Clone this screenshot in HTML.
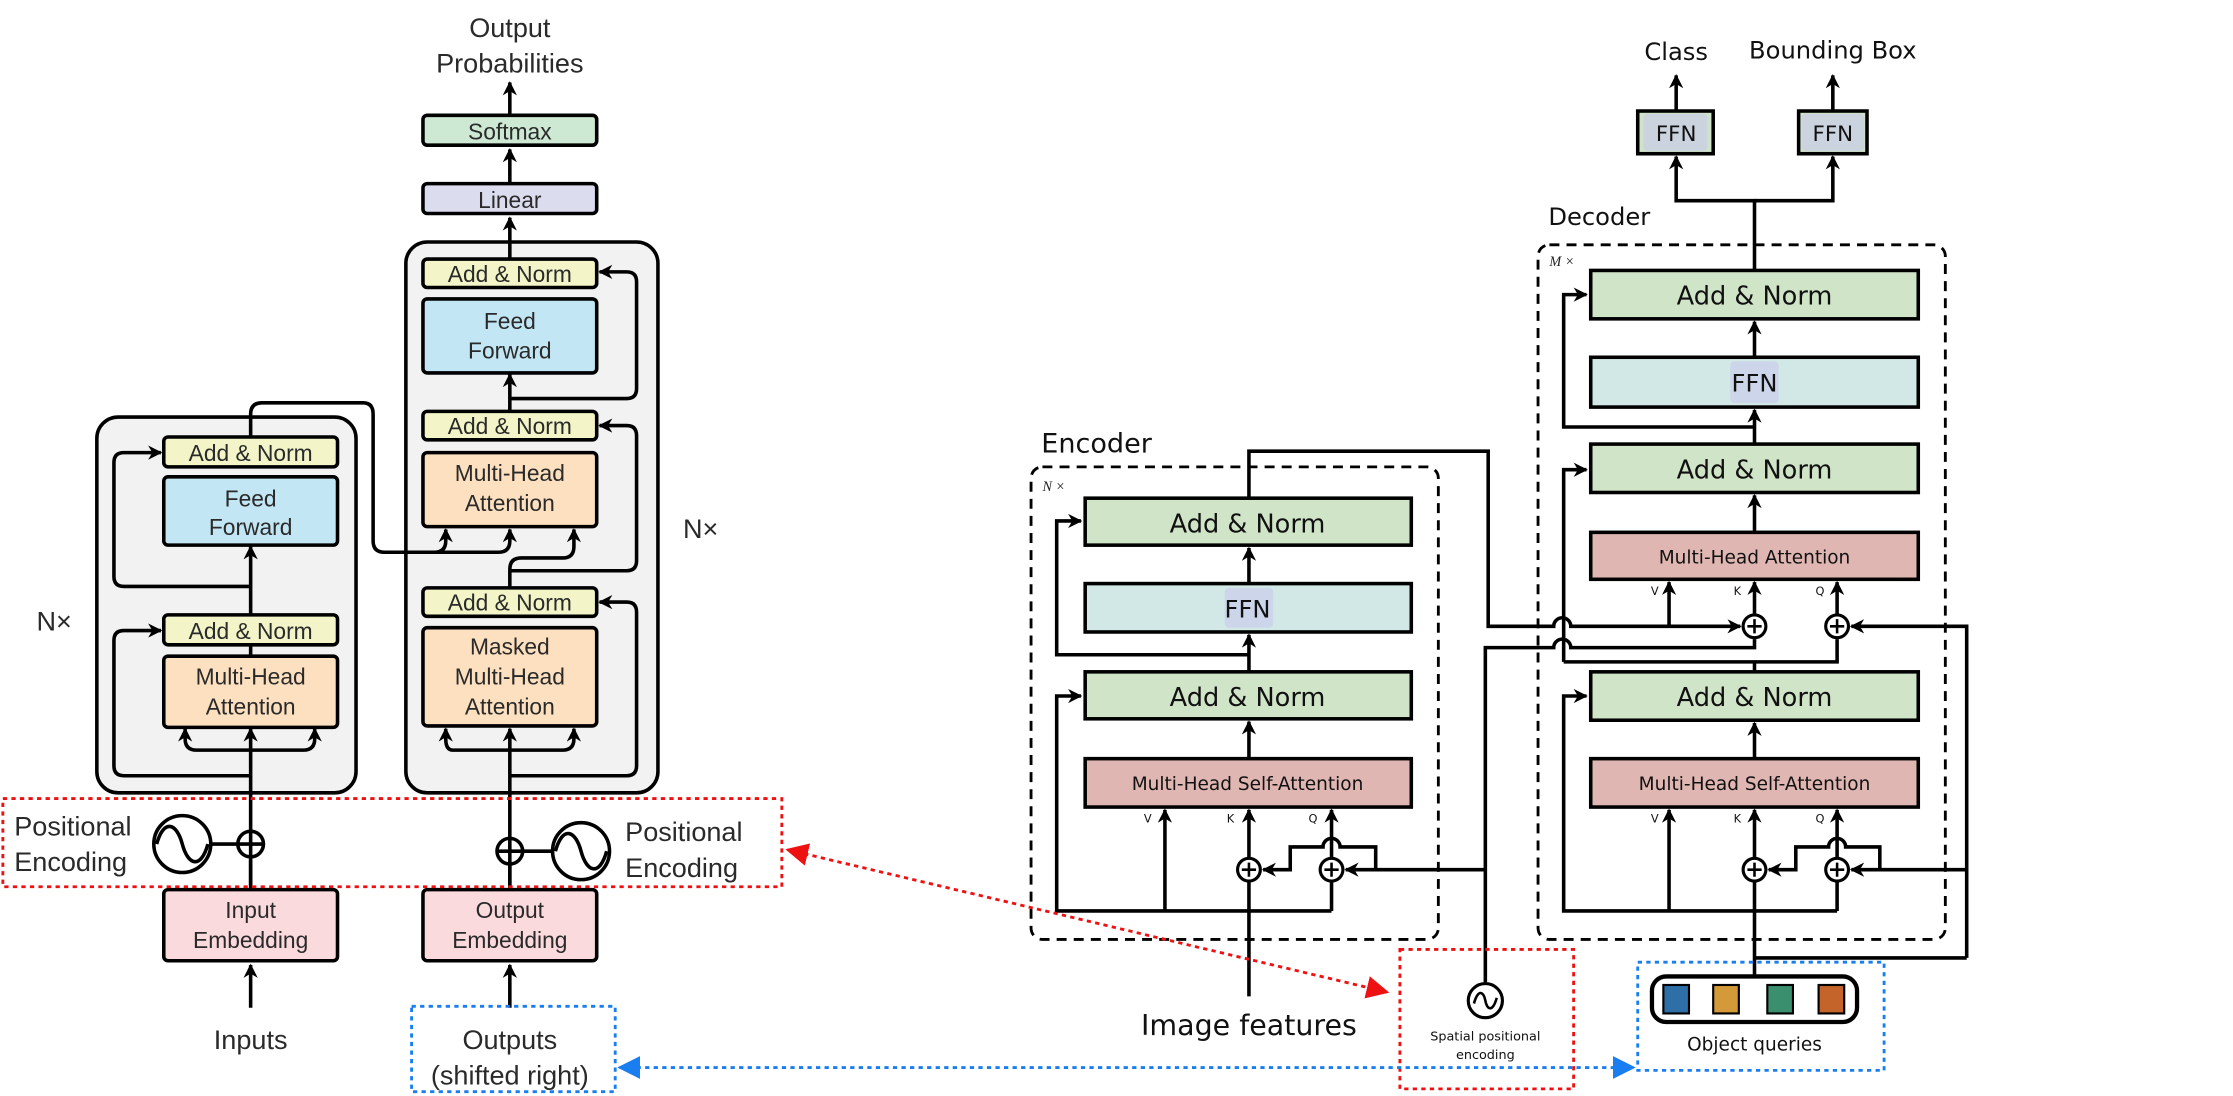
<!DOCTYPE html>
<html><head><meta charset="utf-8"><style>
html,body{margin:0;padding:0;background:#fff;}
svg{display:block;}
.l{font-family:"Liberation Sans",sans-serif;fill:#2a2a2a;text-anchor:middle;}
.r{font-family:"DejaVu Sans","Liberation Sans",sans-serif;fill:#111;text-anchor:middle;}
</style></head><body>
<svg width="2233" height="1096" viewBox="0 0 1568 770" preserveAspectRatio="none" xmlns="http://www.w3.org/2000/svg">
<defs>
<marker id="a" viewBox="0 0 10 10" refX="9" refY="5" markerWidth="4" markerHeight="4" orient="auto-start-reverse" markerUnits="strokeWidth"><path d="M0,0 L10,5 L0,10 L3,5 z" fill="#000"/></marker>
<marker id="ar" viewBox="0 0 10 10" refX="9" refY="5" markerWidth="8" markerHeight="8" orient="auto-start-reverse" markerUnits="strokeWidth"><path d="M0,0 L10,5 L0,10 z" fill="#e11"/></marker>
<marker id="ab" viewBox="0 0 10 10" refX="9" refY="5" markerWidth="8" markerHeight="8" orient="auto-start-reverse" markerUnits="strokeWidth"><path d="M0,0 L10,5 L0,10 z" fill="#1a7ef0"/></marker>
</defs>
<rect width="1568" height="770" fill="#fff"/>

<!-- ===== LEFT: Transformer ===== -->
<g stroke="#000" stroke-width="2.5" fill="none">
<rect x="285" y="170" width="177" height="387" rx="15" fill="#f2f2f2"/>
<rect x="68" y="293" width="182" height="264" rx="15" fill="#f2f2f2"/>
</g>
<g stroke="#000" stroke-width="2.5">
<rect x="297" y="81" width="122" height="21" rx="3" fill="#cde9d3"/>
<rect x="297" y="129" width="122" height="21" rx="3" fill="#dcdcef"/>
<rect x="297" y="182" width="122" height="20" rx="3" fill="#f3f5c8"/>
<rect x="297" y="210" width="122" height="52" rx="3" fill="#c3e6f4"/>
<rect x="297" y="289" width="122" height="20" rx="3" fill="#f3f5c8"/>
<rect x="297" y="318" width="122" height="52" rx="3" fill="#fde0bf"/>
<rect x="297" y="413" width="122" height="20" rx="3" fill="#f3f5c8"/>
<rect x="297" y="441" width="122" height="69" rx="3" fill="#fde0bf"/>
<rect x="115" y="307" width="122" height="21" rx="3" fill="#f3f5c8"/>
<rect x="115" y="335" width="122" height="48" rx="3" fill="#c3e6f4"/>
<rect x="115" y="432" width="122" height="21" rx="3" fill="#f3f5c8"/>
<rect x="115" y="461" width="122" height="50" rx="3" fill="#fde0bf"/>
<rect x="115" y="625" width="122" height="50" rx="3" fill="#fadadd"/>
<rect x="297" y="625" width="122" height="50" rx="3" fill="#fadadd"/>
</g>
<g stroke="#000" stroke-width="2.5" fill="none">
<path d="M358 80 V58" marker-end="url(#a)"/>
<path d="M358 129 V105" marker-end="url(#a)"/>
<path d="M358 182 V153" marker-end="url(#a)"/>
<path d="M358 289 V263" marker-end="url(#a)"/>
<path d="M358 413 V400 Q358 392 366 392 H395 Q403 392 403 384 V372" marker-end="url(#a)"/>
<path d="M358 622 V512" marker-end="url(#a)"/>
<path d="M358 527 H395 Q403 527 403 519 V512" marker-end="url(#a)"/>
<path d="M358 527 H318 Q313 527 313 519 V512" marker-end="url(#a)"/>
<path d="M358 280 H440 Q447 280 447 273 V198 Q447 191 440 191 H421" marker-end="url(#a)"/>
<path d="M358 401 H440 Q447 401 447 394 V306 Q447 299 440 299 H421" marker-end="url(#a)"/>
<path d="M358 545 H440 Q447 545 447 538 V430 Q447 423 440 423 H421" marker-end="url(#a)"/>
<path d="M176 622 V512" marker-end="url(#a)"/>
<path d="M176 527 H138 Q130 527 130 519 V512" marker-end="url(#a)"/>
<path d="M176 527 H213 Q221 527 221 519 V512" marker-end="url(#a)"/>
<path d="M176 461 V453"/>
<path d="M176 432 V384" marker-end="url(#a)"/>
<path d="M176 545 H87 Q80 545 80 538 V450 Q80 443 87 443 H113" marker-end="url(#a)"/>
<path d="M176 412 H87 Q80 412 80 405 V325 Q80 318 87 318 H113" marker-end="url(#a)"/>
<path d="M176 307 V291 Q176 283 184 283 H255 Q262 283 262 291 V380 Q262 388 270 388 H305 Q313 388 313 380 V372" marker-end="url(#a)"/>
<path d="M305 388 H350 Q358 388 358 380 V372" marker-end="url(#a)"/>
<path d="M176 708 V678" marker-end="url(#a)"/>
<path d="M358 708 V678" marker-end="url(#a)"/>
<path d="M176 625 V604"/>
<path d="M358 625 V608"/>
<circle cx="176" cy="593" r="9" fill="#fff"/>
<path d="M167 593 H185 M176 584 V602"/>
<circle cx="358" cy="598" r="9" fill="#fff"/>
<path d="M349 598 H367 M358 589 V607"/>
<circle cx="128" cy="593" r="20"/>
<path d="M110 593 C115 575 124 578 128 593 C132 608 141 611 146 593"/>
<path d="M148 593 H167"/>
<circle cx="408" cy="598" r="20"/>
<path d="M390 598 C395 580 404 583 408 598 C412 613 421 616 426 598"/>
<path d="M367 598 H388"/>
</g>
<g class="l" font-size="16">
<text x="358" y="98">Softmax</text>
<text x="358" y="146">Linear</text>
<text x="358" y="198">Add &amp; Norm</text>
<text x="358" y="231">Feed</text><text x="358" y="252">Forward</text>
<text x="358" y="305">Add &amp; Norm</text>
<text x="358" y="338">Multi-Head</text><text x="358" y="359">Attention</text>
<text x="358" y="429">Add &amp; Norm</text>
<text x="358" y="460">Masked</text><text x="358" y="481">Multi-Head</text><text x="358" y="502">Attention</text>
<text x="176" y="324">Add &amp; Norm</text>
<text x="176" y="356">Feed</text><text x="176" y="376">Forward</text>
<text x="176" y="449">Add &amp; Norm</text>
<text x="176" y="481">Multi-Head</text><text x="176" y="502">Attention</text>
<text x="176" y="645">Input</text><text x="176" y="666">Embedding</text>
<text x="358" y="645">Output</text><text x="358" y="666">Embedding</text>
</g>
<g class="l" font-size="19">
<text x="358" y="26">Output</text><text x="358" y="51">Probabilities</text>
<text x="176" y="737">Inputs</text>
<text x="358" y="737">Outputs</text><text x="358" y="762">(shifted right)</text>
<text x="38" y="443">N×</text><text x="492" y="378">N×</text>
<text x="10" y="587" text-anchor="start">Positional</text><text x="10" y="612" text-anchor="start">Encoding</text>
<text x="439" y="591" text-anchor="start">Positional</text><text x="439" y="616" text-anchor="start">Encoding</text>
</g>
<rect x="2" y="561" width="547" height="62" fill="none" stroke="#e11" stroke-width="2" stroke-dasharray="3,3"/>
<rect x="289" y="707" width="143" height="60" fill="none" stroke="#1a7ef0" stroke-width="2" stroke-dasharray="3,3"/>

<!-- ===== RIGHT: DETR ===== -->
<g fill="none" stroke="#000" stroke-width="2" stroke-dasharray="7,5">
<rect x="724" y="328" width="286" height="332" rx="8"/>
<rect x="1080" y="172" width="286" height="488" rx="8"/>
</g>
<g stroke="#000" stroke-width="2.5">
<rect x="762" y="350" width="229" height="33" fill="#d0e4c8"/>
<rect x="762" y="410" width="229" height="34" fill="#d1e8e6"/>
<rect x="762" y="472" width="229" height="33" fill="#d0e4c8"/>
<rect x="762" y="533" width="229" height="34" fill="#dfb6b2"/>
<rect x="1117" y="190" width="230" height="34" fill="#d0e4c8"/>
<rect x="1117" y="251" width="230" height="35" fill="#d1e8e6"/>
<rect x="1117" y="312" width="230" height="34" fill="#d0e4c8"/>
<rect x="1117" y="374" width="230" height="33" fill="#dfb6b2"/>
<rect x="1117" y="472" width="230" height="34" fill="#d0e4c8"/>
<rect x="1117" y="533" width="230" height="34" fill="#dfb6b2"/>
<rect x="1150" y="78" width="53" height="30" fill="#cfe3c9"/>
<rect x="1263" y="78" width="48" height="30" fill="#cfe3c9"/>
</g>
<g fill="#c8c8ec" opacity="0.6">
<rect x="860" y="413" width="34" height="28" rx="3"/>
<rect x="1215" y="254" width="34" height="29" rx="3"/>
<rect x="1154" y="80" width="45" height="26" rx="3"/>
<rect x="1265" y="80" width="44" height="26" rx="3"/>
</g>
<g stroke="#000" stroke-width="2.5" fill="none">
<path d="M877 700 V569" marker-end="url(#a)"/>
<path d="M877 533 V507" marker-end="url(#a)"/>
<path d="M877 472 V446" marker-end="url(#a)"/>
<path d="M877 410 V385" marker-end="url(#a)"/>
<path d="M877 460 H742 V366 H759" marker-end="url(#a)"/>
<path d="M935 640 H742 V489 H759" marker-end="url(#a)"/>
<path d="M818 640 V569" marker-end="url(#a)"/>
<path d="M935 640 V569" marker-end="url(#a)"/>
<path d="M966 611 V595 H941 A6 6 0 0 0 929 595 H906 V611 H887" marker-end="url(#a)"/>
<path d="M1043 611 H945" marker-end="url(#a)"/>
<path d="M877 350 V317 H1045 V440 H1091 A6 6 0 0 1 1103 440 H1222" marker-end="url(#a)"/>
<path d="M1043 690 V455 H1091 A6 6 0 0 1 1103 455 H1232 V449"/>
<path d="M1172 440 V409" marker-end="url(#a)"/>
<path d="M1232 431 V409" marker-end="url(#a)"/>
<path d="M1290 431 V409" marker-end="url(#a)"/>
<path d="M1232 472 V465"/>
<path d="M1098 465 H1290 V449"/>
<path d="M1381 673 H1232"/>
<path d="M1381 611 H1300" marker-end="url(#a)"/>
<path d="M1381 673 V440 H1300" marker-end="url(#a)"/>
<path d="M1098 465 V330 H1114" marker-end="url(#a)"/>
<path d="M1232 374 V348" marker-end="url(#a)"/>
<path d="M1232 312 V288" marker-end="url(#a)"/>
<path d="M1232 251 V226" marker-end="url(#a)"/>
<path d="M1232 300 H1098 V207 H1114" marker-end="url(#a)"/>
<path d="M1232 688 V569" marker-end="url(#a)"/>
<path d="M1232 533 V508" marker-end="url(#a)"/>
<path d="M1290 640 H1098 V489 H1114" marker-end="url(#a)"/>
<path d="M1172 640 V569" marker-end="url(#a)"/>
<path d="M1290 640 V569" marker-end="url(#a)"/>
<path d="M1320 611 V595 H1296 A6 6 0 0 0 1284 595 H1261 V611 H1242" marker-end="url(#a)"/>
<path d="M1232 190 V141 H1177 V110" marker-end="url(#a)"/>
<path d="M1232 141 H1287 V110" marker-end="url(#a)"/>
<path d="M1177 78 V53" marker-end="url(#a)"/>
<path d="M1287 78 V53" marker-end="url(#a)"/>
</g>
<g stroke="#000" stroke-width="2.2" fill="#fff">
<circle cx="877" cy="611" r="8"/><circle cx="935" cy="611" r="8"/>
<circle cx="1232" cy="611" r="8"/><circle cx="1290" cy="611" r="8"/>
<circle cx="1232" cy="440" r="8"/><circle cx="1290" cy="440" r="8"/>
<circle cx="1043" cy="703" r="12"/>
</g>
<g stroke="#000" stroke-width="1.8" fill="none">
<path d="M872 611 H882 M877 606 V616 M930 611 H940 M935 606 V616 M1227 611 H1237 M1232 606 V616 M1285 611 H1295 M1290 606 V616 M1227 440 H1237 M1232 435 V445 M1285 440 H1295 M1290 435 V445"/>
<path d="M1035 705 C1038 694 1042 697 1043 703 C1044 709 1048 712 1051 701"/>
</g>
<rect x="1160" y="686" width="144" height="32" rx="10" fill="#fff" stroke="#000" stroke-width="3"/>
<g stroke="#000" stroke-width="1.5">
<rect x="1168" y="692" width="18" height="20" fill="#2e6fa7"/>
<rect x="1203" y="692" width="18" height="20" fill="#d49a3a"/>
<rect x="1241" y="692" width="18" height="20" fill="#3a8f6e"/>
<rect x="1277" y="692" width="18" height="20" fill="#c4642a"/>
</g>
<g class="r">
<text x="876" y="374" font-size="18">Add &amp; Norm</text>
<text x="876" y="434" font-size="17">FFN</text>
<text x="876" y="496" font-size="18">Add &amp; Norm</text>
<text x="876" y="555" font-size="13">Multi-Head  Self-Attention</text>
<text x="1232" y="214" font-size="18">Add &amp; Norm</text>
<text x="1232" y="275" font-size="17">FFN</text>
<text x="1232" y="336" font-size="18">Add &amp; Norm</text>
<text x="1232" y="396" font-size="13">Multi-Head  Attention</text>
<text x="1232" y="496" font-size="18">Add &amp; Norm</text>
<text x="1232" y="555" font-size="13">Multi-Head  Self-Attention</text>
<text x="1177" y="99" font-size="15">FFN</text>
<text x="1287" y="99" font-size="15">FFN</text>
<text x="1177" y="42" font-size="17">Class</text>
<text x="1287" y="41" font-size="17">Bounding Box</text>
<text x="770" y="318" font-size="19">Encoder</text>
<text x="1123" y="158" font-size="17">Decoder</text>
<text x="877" y="727" font-size="20">Image features</text>
<text x="1043" y="731" font-size="9">Spatial  positional</text>
<text x="1043" y="744" font-size="9">encoding</text>
<text x="1232" y="738" font-size="13">Object  queries</text>
<g font-size="8"><text x="806" y="578">V</text><text x="864" y="578">K</text><text x="922" y="578">Q</text>
<text x="1162" y="578">V</text><text x="1220" y="578">K</text><text x="1278" y="578">Q</text>
<text x="1162" y="418">V</text><text x="1220" y="418">K</text><text x="1278" y="418">Q</text></g>
</g>
<text x="732" y="345" font-family="Liberation Serif,serif" font-style="italic" font-size="10" fill="#222">N ×</text>
<text x="1088" y="187" font-family="Liberation Serif,serif" font-style="italic" font-size="10" fill="#222">M ×</text>
<rect x="983" y="667" width="122" height="98" fill="none" stroke="#e11" stroke-width="2" stroke-dasharray="3,3"/>
<rect x="1150" y="676" width="173" height="76" fill="none" stroke="#1a7ef0" stroke-width="2" stroke-dasharray="3,3"/>
<path d="M553 597 L974 697" stroke="#e11" stroke-width="2" stroke-dasharray="3,3" fill="none" marker-start="url(#ar)" marker-end="url(#ar)"/>
<path d="M435 750 L1147 750" stroke="#1a7ef0" stroke-width="2" stroke-dasharray="3,3" fill="none" marker-start="url(#ab)" marker-end="url(#ab)"/>
</svg>
</body></html>
